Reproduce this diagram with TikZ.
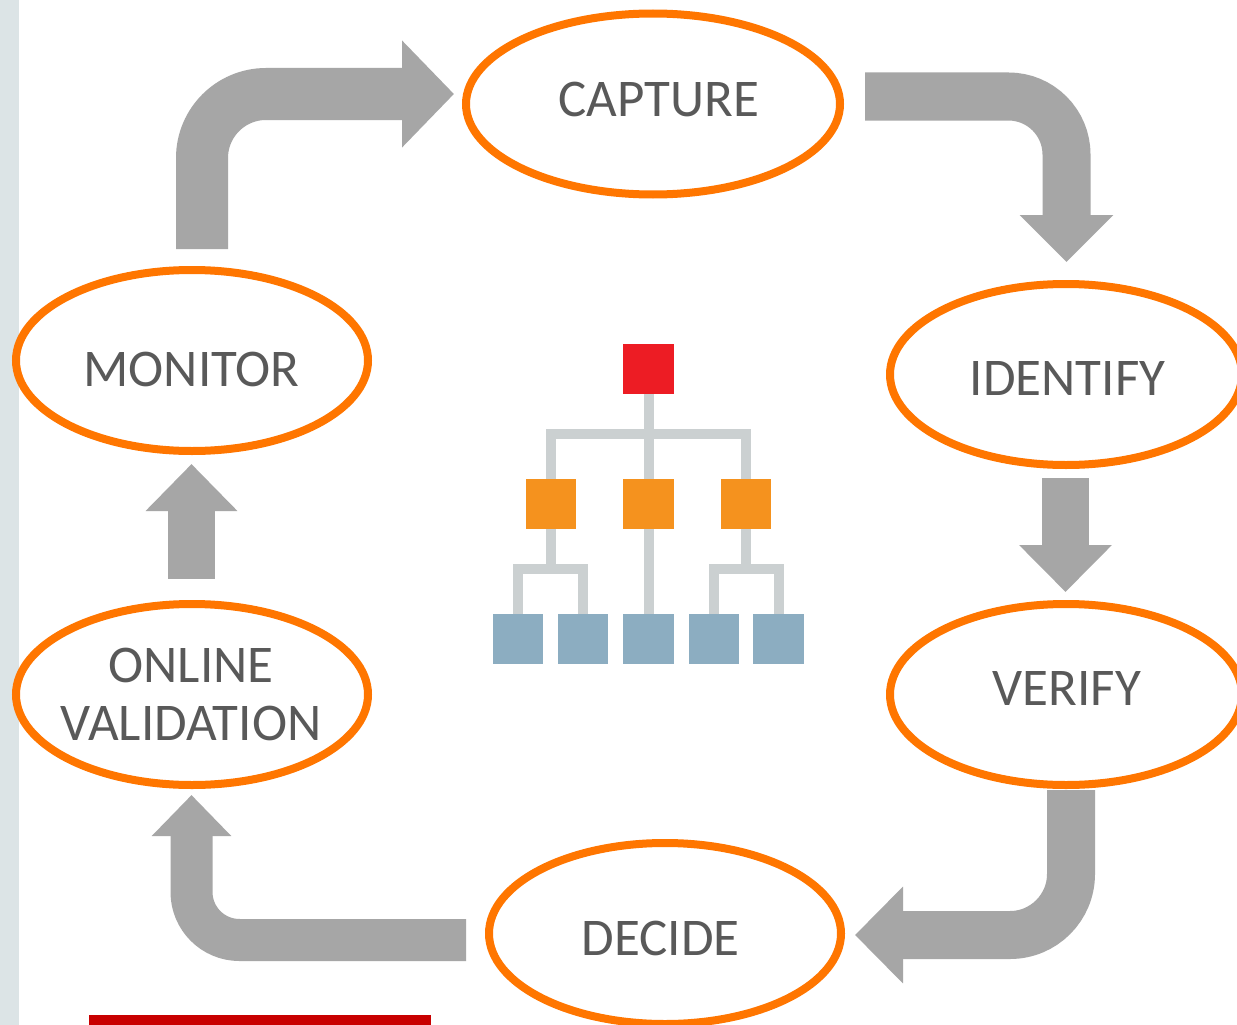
\documentclass[tikz,border=0pt]{standalone}
\usepackage{fontspec}
\setmainfont{Carlito}
\usetikzlibrary{shapes.geometric,arrows.meta,calc}
\definecolor{ringc}{HTML}{FF7600}
\definecolor{bandc}{HTML}{A6A6A6}
\definecolor{textc}{HTML}{595959}
\definecolor{linkc}{HTML}{CBD0D1}
\definecolor{redc}{HTML}{ED1C24}
\definecolor{orangec}{HTML}{F5921E}
\definecolor{bluec}{HTML}{8CADC1}
\definecolor{stripc}{HTML}{DCE4E6}
\definecolor{barc}{HTML}{C80000}
\tikzset{
  oval/.style={ellipse,draw=ringc,line width=8pt,fill=white,inner sep=0pt,minimum width=352pt,minimum height=181pt},
  lab/.style={text=textc,font=\fontsize{53}{58}\selectfont,align=center,inner sep=0pt},
  sq/.style={rectangle,inner sep=0pt,minimum width=50.5pt,minimum height=50.5pt},
  redsq/.style={sq,fill=redc},
  orsq/.style={sq,fill=orangec},
  blsq/.style={sq,fill=bluec},
  link/.style={draw=linkc,line width=10pt},
  band/.style={draw=bandc,line width=#1,line join=miter},
}
\begin{document}
\begin{tikzpicture}[x=1pt,y=-1pt]
\useasboundingbox (0,0) rectangle (1237,1025);
\clip (0,0) rectangle (1237,1025);
\fill[white] (0,0) rectangle (1237,1025);
\fill[stripc] (0,0) rectangle (19,1025);
\fill[barc] (89,1015) rectangle (431,1025);

% process ovals
\node[oval,minimum width=374pt] (capture) at (653,104) {};
\node[oval] (identify) at (1066,374.5) {};
\node[oval] (verify) at (1066,694.5) {};
\node[oval] (decide) at (665,933.5) {};
\node[oval] (online) at (192,694.5) {};
\node[oval] (monitor) at (192,360.5) {};

\node[lab] (captureT) at (659,99) {CAPTURE};
\node[lab] (identifyT) at (1067.5,378) {IDENTIFY};
\node[lab] (verifyT) at (1067,688) {VERIFY};
\node[lab] (decideT) at (660.5,938) {DECIDE};
\node[lab] (onlineT) at (191,694) {ONLINE\\VALIDATION};
\node[lab] (monitorT) at (191.5,369) {MONITOR};

% free ends of the block arrows
\coordinate (a1s) at (865,96.5);   \coordinate (a1c) at (1066.5,262);
\coordinate (a2s) at (1065.5,478); \coordinate (a2e) at (1065.5,592);
\coordinate (a3s) at (1071,790); \coordinate (a3e) at (855,935);
\coordinate (a4s) at (466,940);  \coordinate (a4e) at (191.5,795);
\coordinate (a5s) at (191.5,578.5); \coordinate (a5e) at (191.5,464);
\coordinate (a6s) at (202,249);  \coordinate (a6e) at (454,94);

\draw[band=48pt,rounded corners=58pt,-{Triangle[length=47pt,width=91pt]}] (a1s) -| (a1c);
\draw[band=47pt,-{Triangle[length=47pt,width=90pt]}] (a2s) -- (a2e);
\draw[band=48pt,rounded corners=61pt,-{Triangle[length=48pt,width=94pt]}] (a3s) |- (a3e);
\draw[band=42pt,rounded corners=48pt,-{Triangle[length=41pt,width=77pt]}] (a4s) -| (a4e);
\draw[band=47pt,-{Triangle[length=47pt,width=89pt]}] (a5s) -- (a5e);
\draw[band=52pt,rounded corners=64pt,-{Triangle[length=52pt,width=104pt]}] (a6s) |- (a6e);

% hierarchy
\node[redsq] (r) at (648.5,369) {};
\node[orsq] (o1) at (551,504) {};
\node[orsq] (o2) at (648.5,504) {};
\node[orsq] (o3) at (746,504) {};
\node[blsq] (b1) at (518,639) {};
\node[blsq] (b2) at (583,639) {};
\node[blsq] (b3) at (648.5,639) {};
\node[blsq] (b4) at (714,639) {};
\node[blsq] (b5) at (778.5,639) {};
\coordinate (busa) at (648.5,434);
\coordinate (busb) at (551,569);
\coordinate (busc) at (746,569);
\draw[link] (r.south) -- (o2.north);
\draw[link] (o1.north) |- (busa) -| (o3.north);
\draw[link] (o2.south) -- (b3.north);
\draw[link] (o1.south) -- (busb);
\draw[link] (o3.south) -- (busc);
\draw[link] (b1.north) |- (busb) -| (b2.north);
\draw[link] (b4.north) |- (busc) -| (b5.north);
\end{tikzpicture}
\end{document}
